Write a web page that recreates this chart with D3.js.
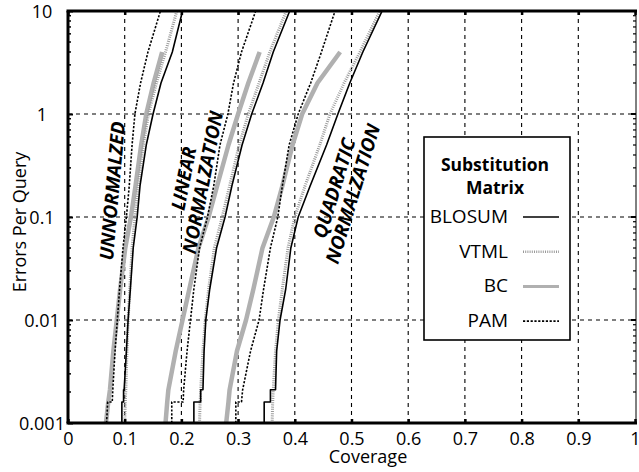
<!DOCTYPE html>
<html>
<head>
<meta charset="utf-8">
<script src="https://cdn.jsdelivr.net/npm/d3@7"></script>
<style>
  html, body { margin: 0; padding: 0; background: #fff; }
  text { font-family: "Open Sans", "Noto Sans", sans-serif; fill: #000; }
</style>
</head>
<body>
<script>
// ---------- DATA ----------
const errorLevels = [0.001, 0.0016, 0.0016, 0.0021, 0.0021, 0.005, 0.01, 0.02, 0.05, 0.1, 0.2, 0.5, 1, 2, 4, 10];

const blosumUnnorm = [0.095, 0.095, 0.098, 0.098, 0.099, 0.103, 0.106, 0.110, 0.115, 0.122, 0.127, 0.138, 0.150, 0.164, 0.184, 0.202];
const vtmlUnnorm   = [0.100, 0.101, 0.101, 0.102, 0.102, 0.104, 0.106, 0.109, 0.113, 0.118, 0.124, 0.133, 0.142, 0.156, 0.172, 0.192];
const bcUnnorm     = [0.067, 0.071, 0.071, 0.074, 0.074, 0.080, 0.086, 0.092, 0.101, 0.111, 0.119, 0.129, 0.138, 0.151, 0.166, null];
const pamUnnorm    = [0.068, 0.070, 0.078, 0.079, 0.079, 0.083, 0.087, 0.091, 0.097, 0.103, 0.108, 0.113, 0.118, 0.128, 0.141, 0.163];

const blosumLinear = [0.222, 0.222, 0.234, 0.234, 0.238, 0.240, 0.243, 0.250, 0.262, 0.277, 0.289, 0.307, 0.324, 0.344, 0.362, 0.391];
const vtmlLinear   = [0.232, 0.233, 0.233, 0.234, 0.234, 0.238, 0.242, 0.248, 0.258, 0.272, 0.285, 0.302, 0.318, 0.337, 0.356, 0.385];
const bcLinear     = [0.172, 0.175, 0.175, 0.177, 0.177, 0.190, 0.202, 0.214, 0.230, 0.248, 0.263, 0.283, 0.300, 0.318, 0.338, null];
const pamLinear    = [0.183, 0.183, 0.203, 0.204, 0.204, 0.210, 0.216, 0.222, 0.232, 0.246, 0.257, 0.268, 0.282, 0.292, 0.306, 0.331];

const blosumQuad = [0.346, 0.346, 0.357, 0.357, 0.366, 0.368, 0.374, 0.384, 0.393, 0.406, 0.427, 0.456, 0.476, 0.497, 0.520, 0.554];
const vtmlQuad   = [0.360, 0.361, 0.361, 0.362, 0.362, 0.366, 0.371, 0.378, 0.388, 0.400, 0.418, 0.444, 0.462, 0.487, 0.515, 0.550];
const bcQuad     = [0.279, 0.283, 0.283, 0.285, 0.285, 0.298, 0.314, 0.327, 0.343, 0.363, 0.378, 0.396, 0.413, 0.440, 0.480, null];
const pamQuad    = [0.296, 0.296, 0.306, 0.308, 0.308, 0.322, 0.337, 0.345, 0.357, 0.370, 0.378, 0.390, 0.406, 0.428, 0.447, 0.471];

const matrixNames = ["BLOSUM", "VTML", "BC", "PAM"];
const xTickValues = [0, 0.1, 0.2, 0.3, 0.4, 0.5, 0.6, 0.7, 0.8, 0.9, 1];
const xTickLabels = ["0", "0.1", "0.2", "0.3", "0.4", "0.5", "0.6", "0.7", "0.8", "0.9", "1"];
const yTickValues = [0.001, 0.01, 0.1, 1, 10];
const yTickLabels = ["0.001", "0.01", "0.1", "1", "10"];
const groupLabels = [["UNNORMALZED"], ["LINEAR", "NORMALZATION"], ["QUADRATIC", "NORMALZATION"]];
// label anchor in data space (coverage, errors) and rotation
const groupLabelAnchors = [[0.0776, 0.179, -85], [0.2035, 0.236, -79], [0.469, 0.191, -73]];

// ---------- LAYOUT ----------
const W = 639, H = 472;
const L = 68, R = 635, T = 11, B = 423;
const x = d3.scaleLinear().domain([0, 1]).range([L, R]);
const y = d3.scaleLog().domain([0.001, 10]).range([B, T]);

const styles = {
  BLOSUM: { stroke: "#000", width: 1.6, dash: null },
  VTML:   { stroke: "#9a9a9a", width: 3, dash: "1,1.2" },
  BC:     { stroke: "#b0b0b0", width: 4.5, dash: null },
  PAM:    { stroke: "#000", width: 1.6, dash: "2.2,1.6" }
};

const svg = d3.select("body").append("svg").attr("width", W).attr("height", H);

svg.append("defs").append("clipPath").attr("id", "plotclip")
  .append("rect").attr("x", L).attr("y", T).attr("width", R - L + 1).attr("height", B - T);

// grid
const grid = svg.append("g");
grid.selectAll("line.gx").data(xTickValues.filter(v => v > 0 && v < 1)).join("line")
  .attr("x1", d => x(d)).attr("x2", d => x(d)).attr("y1", T).attr("y2", B)
  .attr("stroke", "#000").attr("stroke-width", 1.1).attr("stroke-dasharray", "4,4");
grid.selectAll("line.gy").data(yTickValues.filter(v => v > 0.001 && v < 10)).join("line")
  .attr("x1", L).attr("x2", R).attr("y1", d => y(d)).attr("y2", d => y(d))
  .attr("stroke", "#000").attr("stroke-width", 1.1).attr("stroke-dasharray", "4,4");

// curves
const groups = [
  { BLOSUM: blosumUnnorm, VTML: vtmlUnnorm, BC: bcUnnorm, PAM: pamUnnorm },
  { BLOSUM: blosumLinear, VTML: vtmlLinear, BC: bcLinear, PAM: pamLinear },
  { BLOSUM: blosumQuad, VTML: vtmlQuad, BC: bcQuad, PAM: pamQuad }
];
const line = d3.line().defined(d => d.c != null).x(d => x(d.c)).y(d => y(d.e));
const curveLayer = svg.append("g").attr("clip-path", "url(#plotclip)");
const drawOrder = ["BC", "VTML", "PAM", "BLOSUM"];
drawOrder.forEach(name => {
  groups.forEach(g => {
    const pts = g[name].map((c, i) => ({ c: c, e: errorLevels[i] }));
    const st = styles[name];
    curveLayer.append("path").datum(pts).attr("d", line)
      .attr("fill", "none").attr("stroke", st.stroke).attr("stroke-width", st.width)
      .attr("stroke-dasharray", st.dash).attr("stroke-linejoin", "round");
  });
});

// axes (ticks + labels)
const xAxis = d3.axisBottom(x).tickValues(xTickValues).tickFormat((d, i) => xTickLabels[i]).tickSize(-4).tickPadding(9);
const gx = svg.append("g").attr("transform", `translate(0,${B})`).call(xAxis);
gx.select(".domain").remove();
gx.selectAll(".tick line").attr("stroke", "#000").attr("stroke-width", 2.5);
gx.selectAll(".tick text").attr("font-size", 18).attr("font-family", "Open Sans, sans-serif").attr("fill", "#000");

const xTop = d3.axisTop(x).tickValues(xTickValues).tickFormat("").tickSize(-4);
const gxt = svg.append("g").attr("transform", `translate(0,${T})`).call(xTop);
gxt.select(".domain").remove();
gxt.selectAll(".tick line").attr("stroke", "#000").attr("stroke-width", 2.5);

const yAxis = d3.axisLeft(y).tickValues(yTickValues).tickFormat((d, i) => yTickLabels[i]).tickSize(-5).tickPadding(0);
const gy = svg.append("g").attr("transform", `translate(${L},0)`).call(yAxis);
gy.select(".domain").remove();
gy.selectAll(".tick line").attr("stroke", "#000").attr("stroke-width", 2);
gy.selectAll(".tick text").attr("font-size", 18).attr("font-family", "Open Sans, sans-serif").attr("fill", "#000")
  .attr("text-anchor", "middle").attr("x", -26).attr("dy", "0.38em");

const minorVals = [];
[0.001, 0.01, 0.1, 1].forEach(dec => { for (let k = 2; k <= 9; k++) minorVals.push(dec * k); });
svg.append("g").selectAll("line").data(minorVals).join("line")
  .attr("x1", L).attr("x2", L + 3).attr("y1", d => y(d)).attr("y2", d => y(d))
  .attr("stroke", "#000").attr("stroke-width", 1.5);
svg.append("g").selectAll("line").data(minorVals).join("line")
  .attr("x1", R + 1).attr("x2", R - 2).attr("y1", d => y(d)).attr("y2", d => y(d))
  .attr("stroke", "#000").attr("stroke-width", 1.2);
svg.append("g").selectAll("line").data(yTickValues).join("line")
  .attr("x1", R + 1).attr("x2", R - 4).attr("y1", d => y(d)).attr("y2", d => y(d))
  .attr("stroke", "#000").attr("stroke-width", 2);

// frame
svg.append("line").attr("x1", L - 1.5).attr("x2", R + 2).attr("y1", T).attr("y2", T).attr("stroke", "#000").attr("stroke-width", 3);
svg.append("line").attr("x1", L - 1.5).attr("x2", R + 2).attr("y1", B).attr("y2", B).attr("stroke", "#000").attr("stroke-width", 3);
svg.append("line").attr("x1", L).attr("x2", L).attr("y1", T).attr("y2", B).attr("stroke", "#000").attr("stroke-width", 3);
svg.append("line").attr("x1", R + 1).attr("x2", R + 1).attr("y1", T).attr("y2", B).attr("stroke", "#000").attr("stroke-width", 1);

// axis titles
svg.append("text").attr("x", 368).attr("y", 463).attr("text-anchor", "middle").attr("font-size", 18).text("Coverage");
svg.append("text").attr("transform", "translate(26,222) rotate(-90)").attr("text-anchor", "middle").attr("font-size", 18).text("Errors Per Query");

// group labels
groupLabels.forEach((lines, gi) => {
  const a = groupLabelAnchors[gi];
  const px = x(a[0]), py = y(a[1]), ang = a[2];
  const t = svg.append("text").attr("transform", `translate(${px},${py}) rotate(${ang})`)
    .attr("text-anchor", "middle").attr("font-size", 19).attr("font-weight", "bold").attr("font-style", "italic");
  lines.forEach((s, li) => {
    t.append("tspan").attr("x", 0).attr("y", li * 19.5 + 7).text(s);
  });
});

// legend
const lg = svg.append("g");
lg.append("rect").attr("x", 424).attr("y", 137).attr("width", 146).attr("height", 203)
  .attr("fill", "#fff").attr("stroke", "#000").attr("stroke-width", 1.6);
lg.append("text").attr("x", 495).attr("y", 171).attr("text-anchor", "middle").attr("font-size", 17.5).attr("font-weight", "bold").text("Substitution");
lg.append("text").attr("x", 495).attr("y", 194).attr("text-anchor", "middle").attr("font-size", 17.5).attr("font-weight", "bold").text("Matrix");
matrixNames.forEach((name, i) => {
  const by = 223 + i * 34.7;
  lg.append("text").attr("x", 508).attr("y", by).attr("text-anchor", "end").attr("font-size", 19).text(name);
  const st = styles[name];
  lg.append("line").attr("x1", 523).attr("x2", 559).attr("y1", by - 6).attr("y2", by - 6)
    .attr("stroke", st.stroke).attr("stroke-width", name === "BC" ? 3 : (name === "VTML" ? 2.5 : 1.6))
    .attr("stroke-dasharray", st.dash);
});
</script>
</body>
</html>
